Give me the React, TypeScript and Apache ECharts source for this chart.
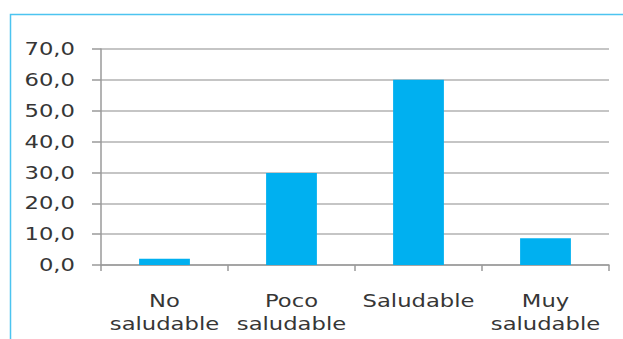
import React, { useEffect, useRef } from "react";
import * as echarts from "echarts";

const categories = ["No\nsaludable", "Poco\nsaludable", "Saludable", "Muy\nsaludable"];
const values = [2.0, 29.8, 60.0, 8.7];
const yMin = 0;
const yMax = 70;
const yInterval = 10;

export default function App() {
  const ref = useRef<HTMLDivElement>(null);
  useEffect(() => {
    document.body.style.margin = "0";
    const chart = echarts.init(ref.current!, null, { renderer: "svg" });
    const widen = () => {
      ref.current?.querySelectorAll("text").forEach((node) => {
        const t = node as SVGTextElement;
        if (t.getAttribute("data-wide")) return;
        t.setAttribute("data-wide", "1");
        const x = parseFloat(t.getAttribute("x") || "0");
        const y = parseFloat(t.getAttribute("y") || "0");
        const tr = t.getAttribute("transform") || "";
        t.setAttribute(
          "transform",
          `${tr} translate(${x} ${y}) scale(1.26 1) translate(${-x} ${-y})`.trim()
        );
      });
    };
    chart.on("finished", widen);
    chart.setOption({
      animation: false,
      backgroundColor: "#ffffff",
      graphic: [
        {
          type: "polyline",
          shape: { points: [[10.5, 340], [10.5, 14.5], [624, 14.5]] },
          style: { stroke: "#4cc4f0", lineWidth: 1.5, fill: "none" },
          silent: true,
        },
      ],
      grid: { left: 101, right: 14, top: 49, bottom: 74, containLabel: false },
      xAxis: {
        type: "category",
        data: categories,
        axisLine: { show: true, lineStyle: { color: "#9a9a9a", width: 1.5 } },
        axisTick: { show: true, length: 6, lineStyle: { color: "#9a9a9a", width: 1.5 } },
        axisLabel: {
          interval: 0,
          margin: 24,
          fontFamily: "DejaVu Sans",
          fontSize: 18,
          lineHeight: 23,
          color: "#363636",
        },
      },
      yAxis: {
        type: "value",
        min: yMin,
        max: yMax,
        interval: yInterval,
        axisLine: { show: true, lineStyle: { color: "#9a9a9a", width: 1.5 } },
        axisTick: { show: true, length: 9, lineStyle: { color: "#9a9a9a", width: 1.5 } },
        splitLine: { show: true, lineStyle: { color: "#b2b2b2", width: 1.5 } },
        axisLabel: {
          margin: 26,
          fontFamily: "DejaVu Sans",
          fontSize: 18,
          color: "#363636",
          formatter: (v: number) => v.toFixed(1).replace(".", ","),
        },
      },
      series: [
        {
          type: "bar",
          data: values,
          barWidth: "40%",
          itemStyle: { color: "#00b0f0" },
        },
      ],
    });
    widen();
    return () => chart.dispose();
  }, []);
  return <div ref={ref} style={{ position: "absolute", left: 0, top: 0, width: 623, height: 339 }} />;
}
